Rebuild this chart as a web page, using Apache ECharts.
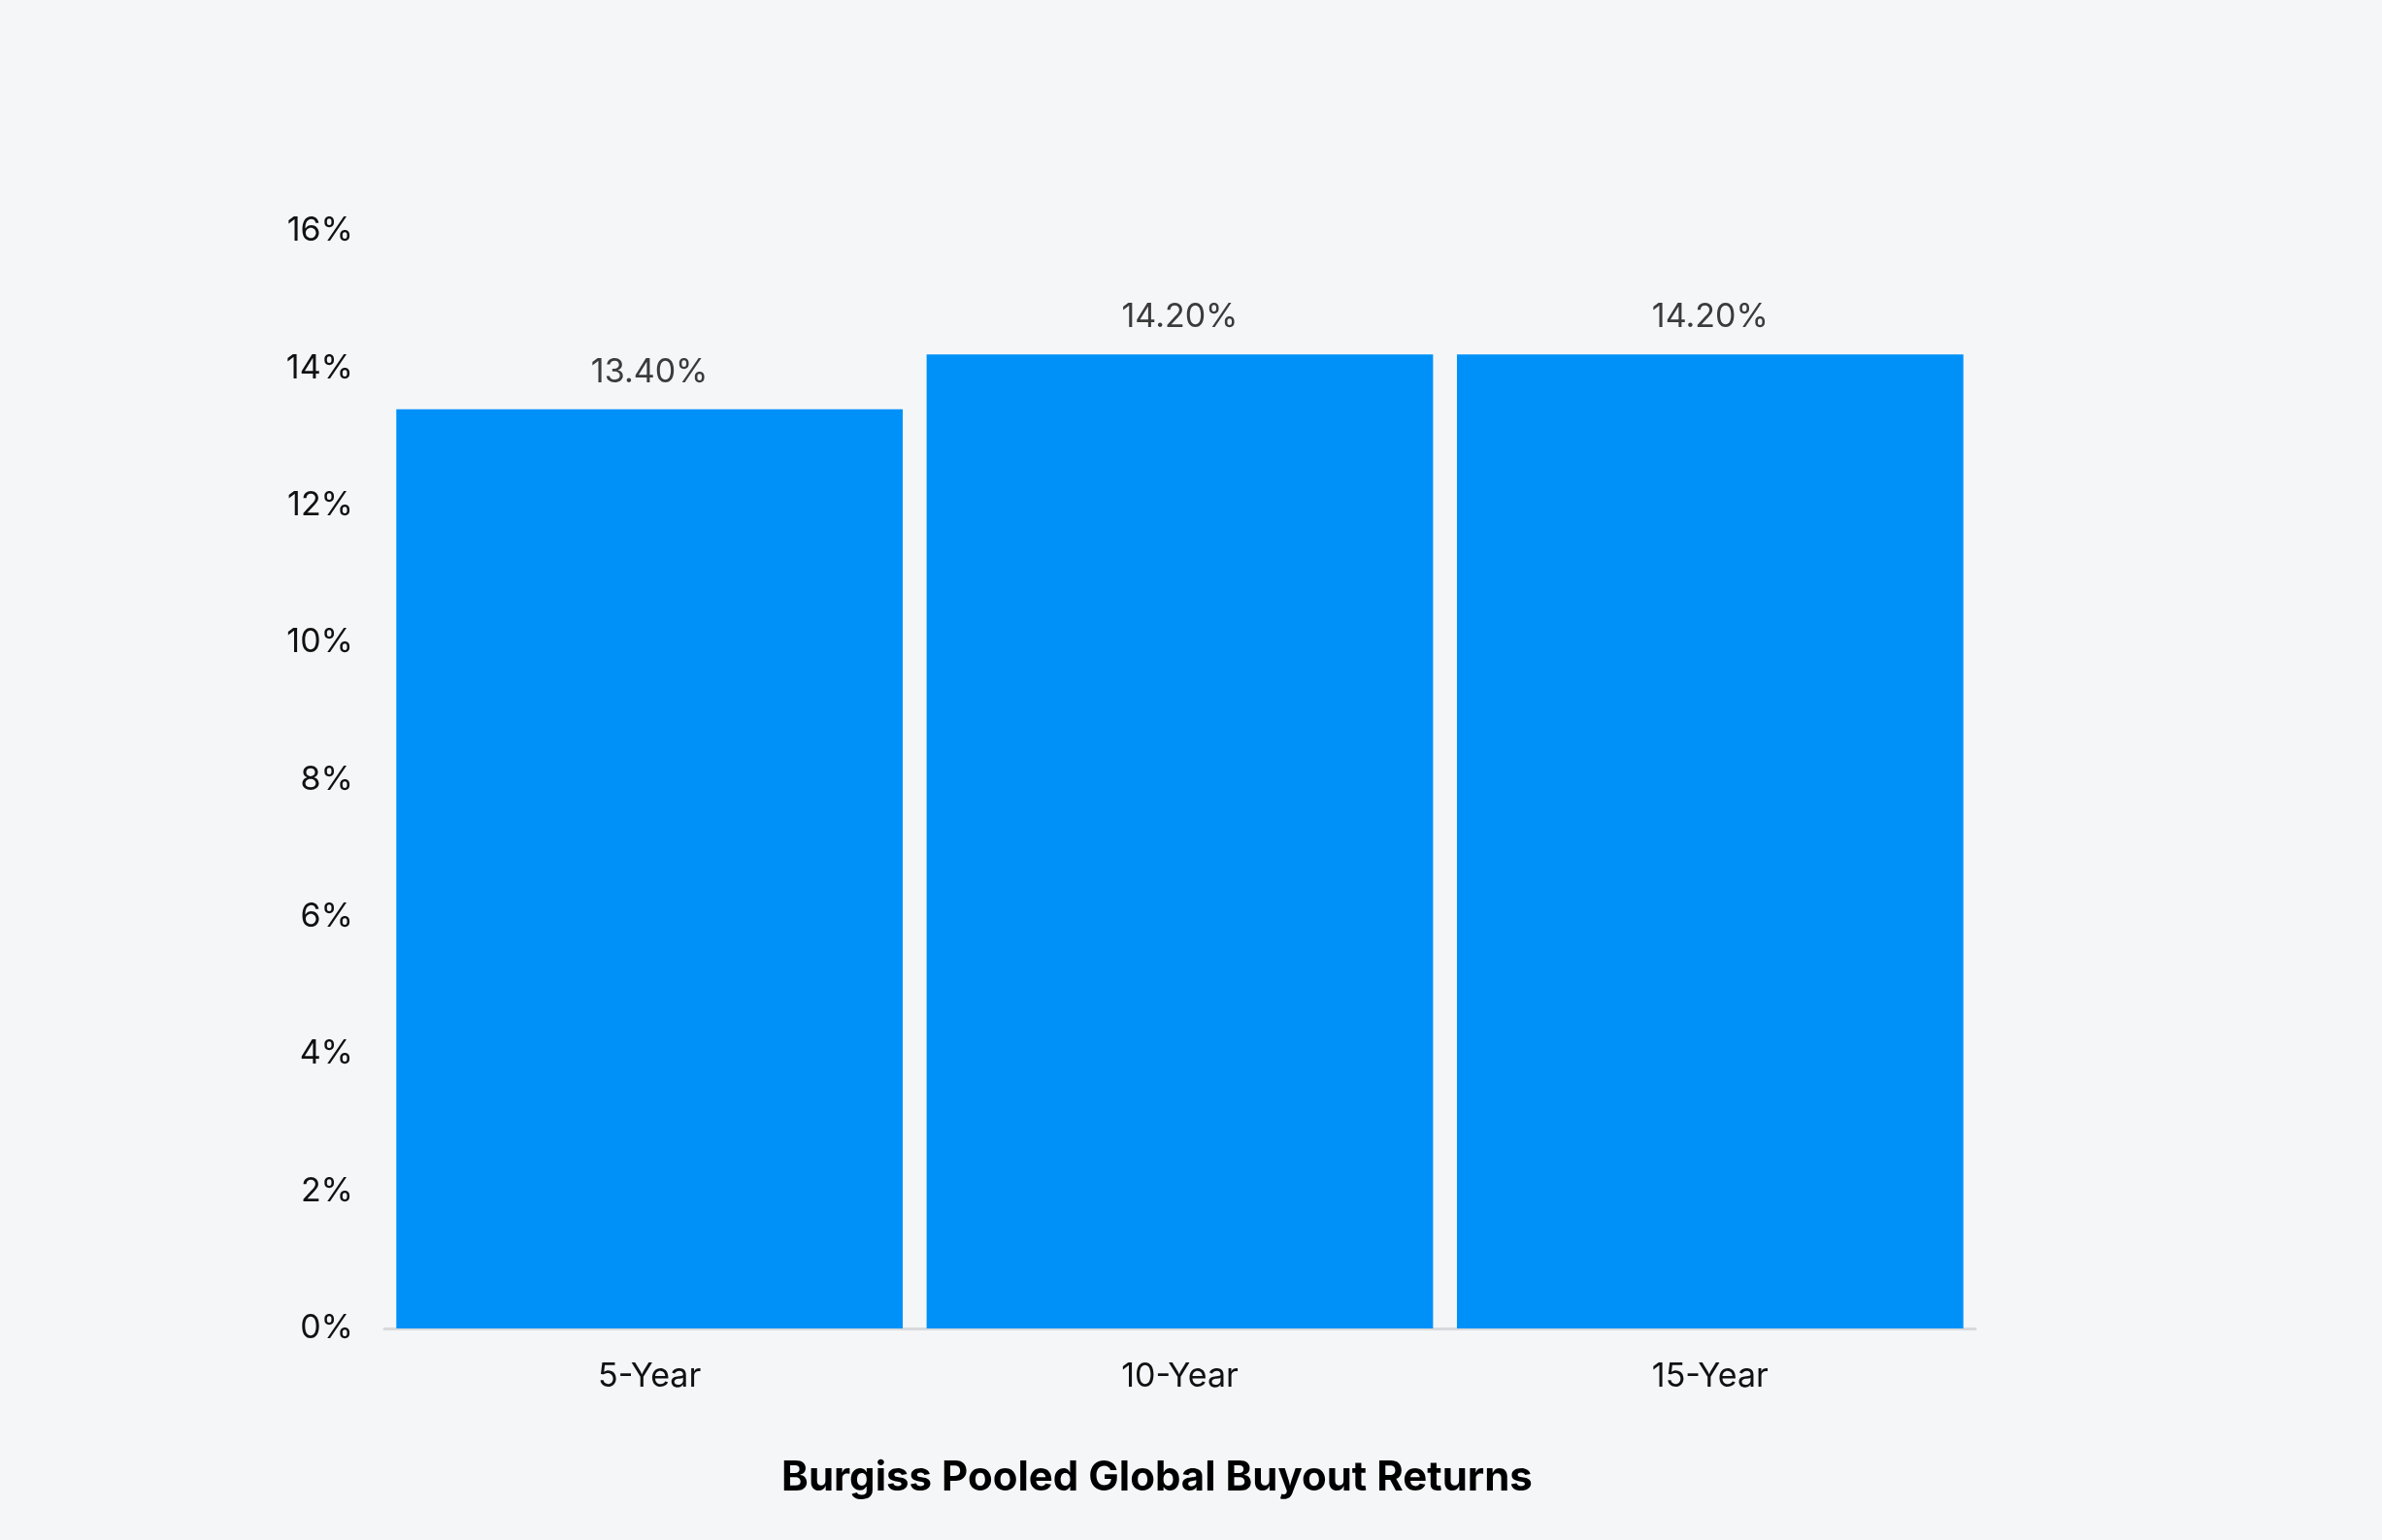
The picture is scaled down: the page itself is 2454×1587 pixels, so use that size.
<!DOCTYPE html>
<html>
<head>
<meta charset="utf-8">
<script src="https://cdn.jsdelivr.net/npm/echarts@6/dist/echarts.min.js"></script>
<style>
html,body{margin:0;padding:0;background:#f5f6f8;}
#c{width:2454px;height:1587px;}
</style>
</head>
<body>
<div id="c"></div>
<script>
const categories = ['5-Year', '10-Year', '15-Year'];
const returnsPct = [13.4, 14.2, 14.2];
const titleText = 'Burgiss Pooled Global Buyout Returns';
const yMin = 0, yMax = 16, yStep = 2;

const chart = echarts.init(document.getElementById('c'));
chart.setOption({
  backgroundColor: '#f5f6f8',
  textStyle: { fontFamily: 'Inter' },
  title: {
    text: titleText,
    left: 1187,
    top: 1497,
    textAlign: 'center',
    textStyle: { fontFamily: 'Inter', fontWeight: 'bold', fontSize: 42, color: '#000' }
  },
  grid: { left: 396, right: 419, top: 238, bottom: 218, containLabel: false },
  xAxis: {
    type: 'category',
    data: categories,
    axisLine: { show: true, lineStyle: { color: '#d8d9dc', width: 3 } },
    axisTick: { show: false },
    axisLabel: { color: '#111', fontSize: 34, margin: 33, fontFamily: 'Inter' }
  },
  yAxis: {
    type: 'value',
    min: yMin, max: yMax, interval: yStep,
    axisLine: { show: false },
    axisTick: { show: false },
    splitLine: { show: false },
    axisLabel: { color: '#111', fontSize: 34, margin: 32, formatter: '{value}%', fontFamily: 'Inter', padding: [6, 0, 0, 0] }
  },
  series: [{
    type: 'bar',
    data: returnsPct,
    barCategoryGap: '4.5%',
    itemStyle: { color: '#0091f8' },
    label: {
      show: true,
      position: 'top',
      distance: 21,
      color: '#3b3b3b',
      fontSize: 34,
      fontFamily: 'Inter',
      formatter: p => p.value.toFixed(2) + '%'
    }
  }]
});
</script>
</body>
</html>
